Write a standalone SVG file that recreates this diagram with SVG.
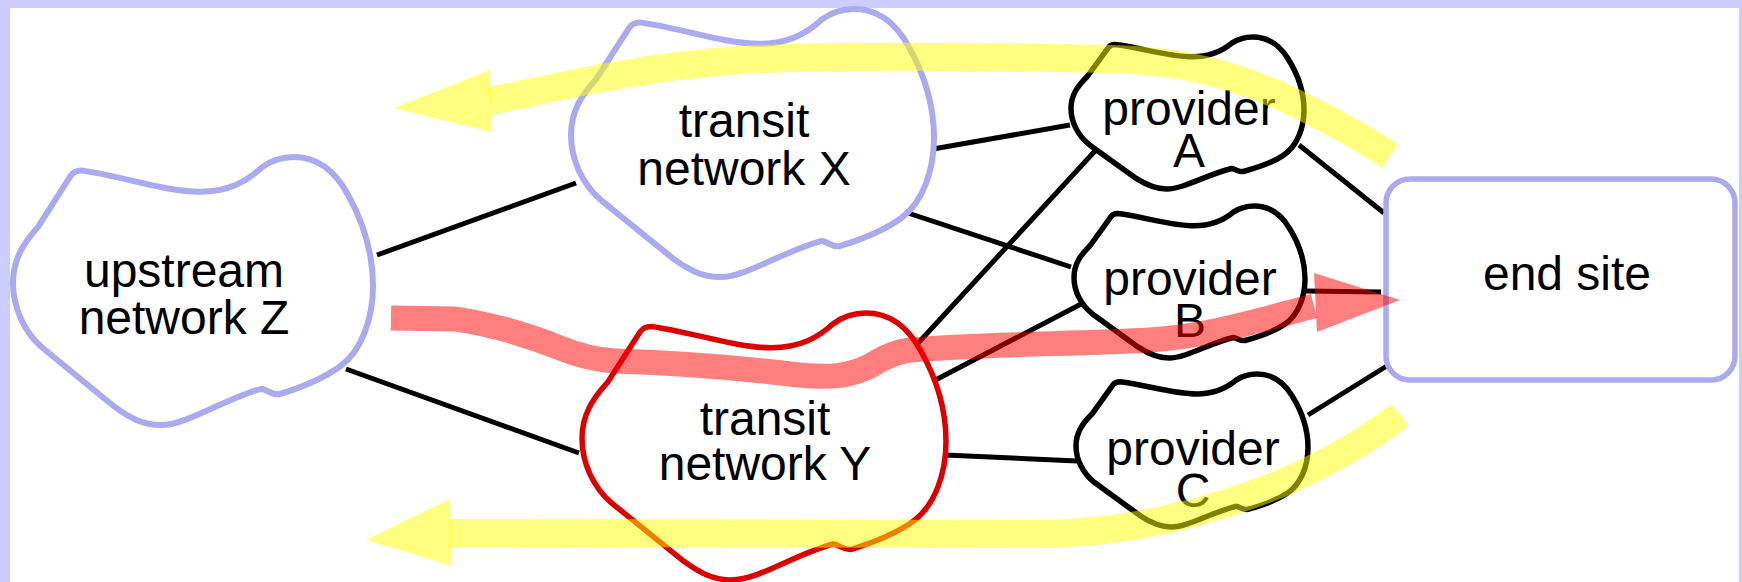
<svg xmlns="http://www.w3.org/2000/svg" width="1742" height="582" viewBox="0 0 1742 582">
  <defs>
    <style>
      .frame { fill: #ccccff; }
      .blob { fill: #ffffff; stroke-linejoin: round; }
      .blue .blob { stroke: #aaaaf0; stroke-width: 6; }
      .red .blob { stroke: #dd0000; stroke-width: 5.5; }
      .black .blob { stroke: #000000; stroke-width: 5.5; }
      .label { font-family: "Liberation Sans", Arial, sans-serif; font-size: 48px; fill: #000000; text-anchor: middle; }
      .link { stroke: #000000; stroke-width: 5; fill: none; }
      .route-y { stroke: #ffff00; stroke-opacity: 0.5; stroke-width: 28; fill: none; }
      .head-y { fill: #ffff00; fill-opacity: 0.5; }
      .route-r { stroke: #ff0000; stroke-opacity: 0.5; stroke-width: 25; fill: none; }
      .head-r { fill: #ff0000; fill-opacity: 0.5; }
    </style>
  </defs>

  <!-- page background with tinted frame -->
  <rect x="0" y="0" width="1742" height="582" class="frame"/>
  <rect x="10" y="8" width="1729" height="574" fill="#ffffff"/>

  <!-- links between networks -->
  <g id="connectors">
    <line class="link" x1="377" y1="255" x2="576" y2="183"/>
    <line class="link" x1="346" y1="369" x2="579" y2="453"/>
    <line class="link" x1="933" y1="149" x2="1070" y2="125"/>
    <line class="link" x1="908" y1="213" x2="1071" y2="267"/>
    <line class="link" x1="909" y1="353" x2="1095" y2="151"/>
    <line class="link" x1="924" y1="386" x2="1083" y2="303"/>
    <line class="link" x1="945" y1="455" x2="1077" y2="461"/>
    <line class="link" x1="1299" y1="145" x2="1384" y2="213"/>
    <line class="link" x1="1304" y1="291" x2="1381" y2="292"/>
    <line class="link" x1="1308" y1="415" x2="1390" y2="364"/>
  </g>

  <!-- network blobs: the same outline, sized per node -->
  <g id="upstream-z" class="blue">
    <path class="blob" d="M 81.4,170.4 C 121,175.8 164.2,191.8 200.2,191.8 C 229,191.8 247,181.1 261.4,167.7 C 272.2,159.7 283,157 293.8,157 C 315.4,157 333.4,167.7 347.8,194.5 C 365.8,226.7 373,258.8 373,285.6 C 373,317.8 362.2,350 340.6,366 C 322.6,379.4 301,387.5 279.4,394.2 C 272.2,395.5 268.6,390.2 261.4,388.8 C 236.2,395.5 207.4,411.6 185.8,419.6 C 175,423.7 167.8,425 160.6,425 C 142.6,425 128.2,417 113.8,406.2 L 41.8,347.3 C 23.8,331.2 13,307.1 13,283 C 13,258.8 23.8,242.8 38.2,226.7 L 70.6,175.8 Q 74.2,170.4 81.4,170.4 Z"/>
    <text class="label" x="184" y="287">upstream</text>
    <text class="label" x="184" y="334">network Z</text>
  </g>

  <g id="transit-x" class="blue">
    <path class="blob" d="M 640,22.4 C 679.9,27.8 723.5,43.8 759.8,43.8 C 788.8,43.8 807,33.1 821.5,19.7 C 832.4,11.7 843.3,9 854.1,9 C 875.9,9 894.1,19.7 908.6,46.5 C 926.7,78.7 934,110.8 934,137.6 C 934,169.8 923.1,202 901.3,218 C 883.2,231.4 861.4,239.5 839.6,246.2 C 832.4,247.5 828.7,242.2 821.5,240.8 C 796.1,247.5 767,263.6 745.2,271.6 C 734.4,275.7 727.1,277 719.8,277 C 701.7,277 687.2,269 672.6,258.2 L 600,199.3 C 581.9,183.2 571,159.1 571,135 C 571,110.8 581.9,94.8 596.4,78.7 L 629.1,27.8 Q 632.7,22.4 640,22.4 Z"/>
    <text class="label" x="744" y="137">transit</text>
    <text class="label" x="744" y="185">network X</text>
  </g>

  <g id="transit-y" class="red">
    <path class="blob" d="M 651.2,326.4 C 691.2,331.7 734.9,347.7 771.3,347.7 C 800.4,347.7 818.6,337 833.2,323.7 C 844.1,315.7 855,313 865.9,313 C 887.8,313 906,323.7 920.5,350.4 C 938.7,382.4 946,414.5 946,441.2 C 946,473.2 935.1,505.2 913.2,521.3 C 895,534.6 873.2,542.6 851.4,549.3 C 844.1,550.6 840.4,545.3 833.2,544 C 807.7,550.6 778.6,566.7 756.7,574.7 C 745.8,578.7 738.5,580 731.2,580 C 713,580 698.5,572 683.9,561.3 L 611.1,502.6 C 592.9,486.6 582,462.5 582,438.5 C 582,414.5 592.9,398.4 607.5,382.4 L 640.2,331.7 Q 643.9,326.4 651.2,326.4 Z"/>
    <text class="label" x="765" y="435">transit</text>
    <text class="label" x="765" y="480">network Y</text>
  </g>

  <g id="provider-a" class="black">
    <path class="blob" d="M 1115.3,44.6 C 1140.9,47.6 1168.9,56.8 1192.2,56.8 C 1210.8,56.8 1222.5,50.7 1231.8,43.1 C 1238.8,38.5 1245.8,37 1252.7,37 C 1266.7,37 1278.4,43.1 1287.7,58.3 C 1299.3,76.5 1304,94.8 1304,110 C 1304,128.2 1297,146.4 1283,155.6 C 1271.4,163.2 1257.4,167.7 1243.4,171.5 C 1238.8,172.3 1236.4,169.2 1231.8,168.5 C 1215.5,172.3 1196.8,181.4 1182.8,186 C 1175.9,188.2 1171.2,189 1166.5,189 C 1154.9,189 1145.6,184.4 1136.2,178.4 L 1089.6,144.9 C 1078,135.8 1071,122.1 1071,108.4 C 1071,94.8 1078,85.6 1087.3,76.5 L 1108.3,47.6 Q 1110.6,44.6 1115.3,44.6 Z"/>
    <text class="label" x="1189" y="125">provider</text>
    <text class="label" x="1189" y="167">A</text>
  </g>

  <g id="provider-b" class="black">
    <path class="blob" d="M 1117.9,213.6 C 1143.3,216.6 1171,225.8 1194.1,225.8 C 1212.6,225.8 1224.2,219.7 1233.4,212.1 C 1240.3,207.5 1247.3,206 1254.2,206 C 1268,206 1279.6,212.1 1288.8,227.3 C 1300.4,245.5 1305,263.8 1305,279 C 1305,297.2 1298.1,315.4 1284.2,324.6 C 1272.7,332.2 1258.8,336.7 1244.9,340.5 C 1240.3,341.3 1238,338.2 1233.4,337.5 C 1217.2,341.3 1198.7,350.4 1184.9,355 C 1178,357.2 1173.3,358 1168.7,358 C 1157.2,358 1147.9,353.4 1138.7,347.4 L 1092.5,313.9 C 1080.9,304.8 1074,291.1 1074,277.4 C 1074,263.8 1080.9,254.6 1090.2,245.5 L 1111,216.6 Q 1113.3,213.6 1117.9,213.6 Z"/>
    <text class="label" x="1190" y="295">provider</text>
    <text class="label" x="1190" y="337">B</text>
  </g>

  <g id="provider-c" class="black">
    <path class="blob" d="M 1120.1,381.7 C 1145.6,384.7 1173.4,393.9 1196.6,393.9 C 1215.2,393.9 1226.8,387.8 1236.1,380.1 C 1243,375.5 1250,374 1257,374 C 1270.9,374 1282.5,380.1 1291.8,395.4 C 1303.4,413.8 1308,432.1 1308,447.4 C 1308,465.8 1301,484.2 1287.1,493.3 C 1275.5,501 1261.6,505.6 1247.7,509.4 C 1243,510.2 1240.7,507.1 1236.1,506.3 C 1219.8,510.2 1201.3,519.4 1187.4,523.9 C 1180.4,526.2 1175.8,527 1171.1,527 C 1159.5,527 1150.2,522.4 1141,516.3 L 1094.6,482.6 C 1083,473.5 1076,459.7 1076,445.9 C 1076,432.1 1083,423 1092.2,413.8 L 1113.1,384.7 Q 1115.4,381.7 1120.1,381.7 Z"/>
    <text class="label" x="1193" y="465">provider</text>
    <text class="label" x="1193" y="507">C</text>
  </g>

  <g id="end-site">
    <rect x="1386" y="179" width="349" height="201" rx="24" ry="24" fill="#ffffff" stroke="#aaaaf0" stroke-width="5.5"/>
    <text class="label" x="1567" y="290">end site</text>
  </g>

  <!-- translucent route highlights drawn over everything -->
  <g id="routes">
    <path class="route-y" d="M 490,101 C 555,88 630,68 741,60 C 820,55 1000,57 1110,59 C 1190,61 1240,77 1293,102 C 1330,120 1360,136 1390,156"/>
    <polygon class="head-y" points="394,108 490,70 492,132"/>
    <path class="route-y" d="M 450,533 L 1050,534 C 1140,531 1215,510 1282,483 C 1330,462 1370,438 1400,415"/>
    <polygon class="head-y" points="366,540 450,499 452,566"/>
    <path class="route-r" d="M 391,318 L 455,319 C 490,324 530,336 560,348 C 580,356 595,360 615,361 C 680,363 740,368 790,374 C 830,379 850,376 870,366 C 885,357 895,352 910,350 C 980,344 1080,344 1150,340 C 1210,336 1260,320 1314,306"/>
    <polygon class="head-r" points="1314,273 1400,300 1317,332"/>
  </g>
</svg>
